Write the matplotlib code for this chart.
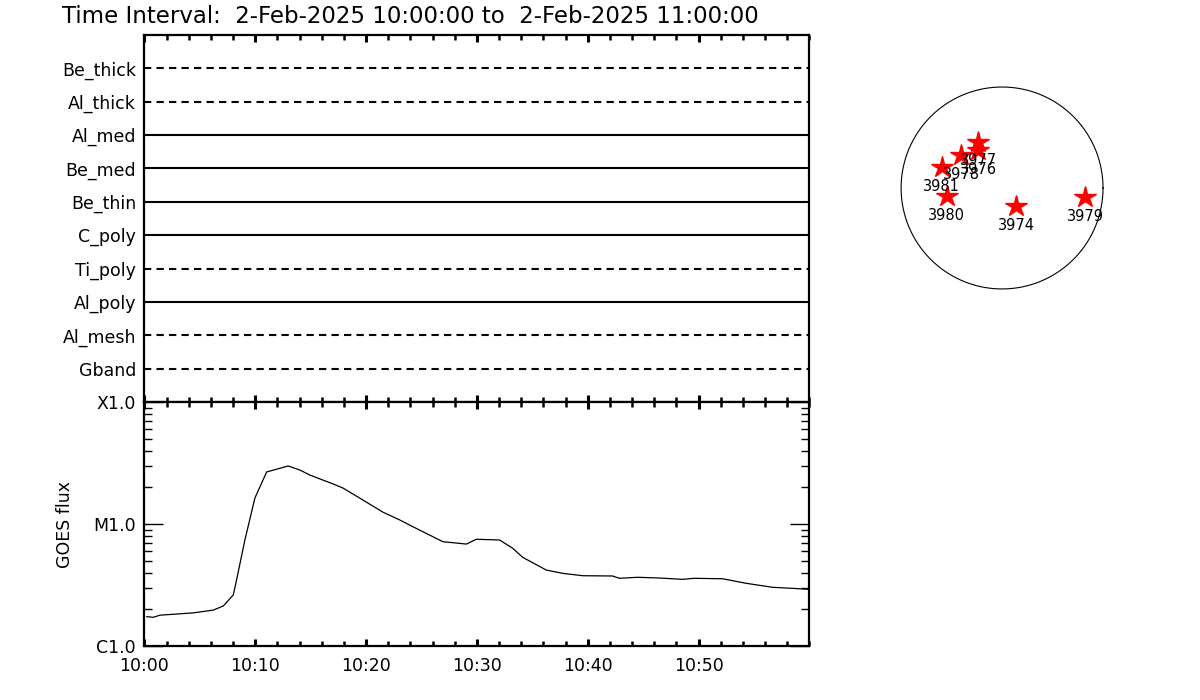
import numpy as np
import matplotlib
matplotlib.use('Agg')
import matplotlib.pyplot as plt
from matplotlib.ticker import FixedLocator, LogLocator, NullFormatter

########## data ##########
filters = ['Gband', 'Al_mesh', 'Al_poly', 'Ti_poly', 'C_poly',
           'Be_thin', 'Be_med', 'Al_med', 'Al_thick', 'Be_thick']
dashed = [True, True, False, True, False, False, False, False, True, True]

# GOES flux, minutes after 10:00
goes_min = [0.22, 0.81, 1.41, 4.41, 6.22, 7.12, 8.02, 8.32, 9.07, 9.97,
            11.03, 12.97, 14.03, 14.93, 17.03, 17.93, 19.73, 21.53, 23.04, 24.23,
            26.94, 27.84, 29.05, 29.95, 32.05, 33.24, 34.14, 36.25, 37.75, 39.55,
            42.25, 42.85, 44.50, 46.46, 48.56, 49.61, 52.16, 54.27, 56.67, 58.47, 59.82]
goes_flux = [1.74e-6, 1.72e-6, 1.79e-6, 1.87e-6, 1.97e-6, 2.13e-6, 2.62e-6, 3.48e-6, 7.40e-6, 1.63e-5,
             2.67e-5, 2.99e-5, 2.77e-5, 2.52e-5, 2.13e-5, 1.97e-5, 1.57e-5, 1.25e-5, 1.08e-5, 9.5e-6,
             7.16e-6, 7.03e-6, 6.85e-6, 7.50e-6, 7.40e-6, 6.32e-6, 5.33e-6, 4.20e-6, 3.94e-6, 3.77e-6,
             3.75e-6, 3.59e-6, 3.66e-6, 3.61e-6, 3.52e-6, 3.59e-6, 3.56e-6, 3.27e-6, 3.03e-6, 2.97e-6, 2.92e-6]

time_ticks = [0, 10, 20, 30, 40, 50]
time_labels = ['10:00', '10:10', '10:20', '10:30', '10:40', '10:50']
flux_ticks = [1e-6, 1e-5, 1e-4]
flux_labels = ['C1.0', 'M1.0', 'X1.0']

# active regions on the disk (units of solar radius)
ar_num = ['3974', '3976', '3977', '3978', '3979', '3980', '3981']
ar_x = [0.139, -0.235, -0.235, -0.406, 0.822, -0.548, -0.597]
ar_y = [-0.178, 0.376, 0.458, 0.327, -0.092, -0.079, 0.205]

title = 'Time Interval:  2-Feb-2025 10:00:00 to  2-Feb-2025 11:00:00'

plt.rcParams['font.family'] = 'DejaVu Sans'
fig = plt.figure(figsize=(12, 7), dpi=100)

fig.text(0.052, 0.977, title, fontsize=16.5, va='center', ha='left')

def style_time_axis(ax):
    ax.set_xlim(0, 60)
    ax.xaxis.set_major_locator(FixedLocator(time_ticks))
    ax.xaxis.set_minor_locator(FixedLocator(np.arange(0, 61, 2)))
    # inward ticks on both edges, so the shared border gets them both ways
    ax.tick_params(axis='x', which='major', direction='in', length=5, width=2.2,
                   top=True, bottom=True)
    ax.tick_params(axis='x', which='minor', direction='in', length=3.5, width=1.8,
                   top=True, bottom=True)
    for s in ax.spines.values():
        s.set_linewidth(1.6)

########## top panel: filter timelines ##########
ax1 = fig.add_axes([0.1203, 0.4257, 0.5542, 0.5243])
style_time_axis(ax1)
ax1.set_ylim(0, 11)
for i, (name, d) in enumerate(zip(filters, dashed)):
    if d:
        ax1.plot([0, 60], [i + 1, i + 1], color='black', lw=1.5, dashes=(3.5, 2.5))
    else:
        ax1.plot([0, 60], [i + 1, i + 1], color='black', lw=1.5)
ax1.set_yticks(range(1, 11))
ax1.set_yticklabels(filters, fontsize=12.5)
ax1.tick_params(axis='y', length=0, pad=6)
ax1.set_xticklabels([])

########## bottom panel: GOES ##########
ax2 = fig.add_axes([0.1203, 0.0771, 0.5542, 0.3486])
style_time_axis(ax2)
ax2.plot(goes_min, goes_flux, color='black', lw=0.9)
ax2.set_yscale('log')
ax2.set_ylim(1e-6, 1e-4)
ax2.yaxis.set_major_locator(FixedLocator(flux_ticks))
ax2.set_yticklabels(flux_labels, fontsize=12.5)
ax2.yaxis.set_minor_locator(LogLocator(base=10, subs=np.arange(2, 10)))
ax2.yaxis.set_minor_formatter(NullFormatter())
ax2.tick_params(axis='y', which='major', direction='in', length=14, width=1,
                left=True, right=True, pad=6)
ax2.tick_params(axis='y', which='minor', direction='in', length=6, width=1,
                left=True, right=True)
ax2.set_xticklabels(time_labels, fontsize=12.5)
ax2.tick_params(axis='x', which='major', pad=8)
ax2.set_ylabel('GOES flux', fontsize=12.5, labelpad=14)

########## solar disk with active regions ##########
ax3 = fig.add_axes([0.7467, 0.58, 0.1767, 0.3029])
ax3.set_xlim(-1.05, 1.05)
ax3.set_ylim(-1.05, 1.05)
ax3.set_aspect('equal')
ax3.axis('off')
th = np.linspace(0, 2 * np.pi, 400)
ax3.plot(np.cos(th), np.sin(th), color='black', lw=0.8)
ax3.plot(ar_x, ar_y, '*', color='red', ms=16, mec='red')
for n, x, y in zip(ar_num, ar_x, ar_y):
    ax3.text(x, y - 0.19, n, fontsize=10.5, ha='center', va='center')

fig.savefig('out.png', dpi=100)
